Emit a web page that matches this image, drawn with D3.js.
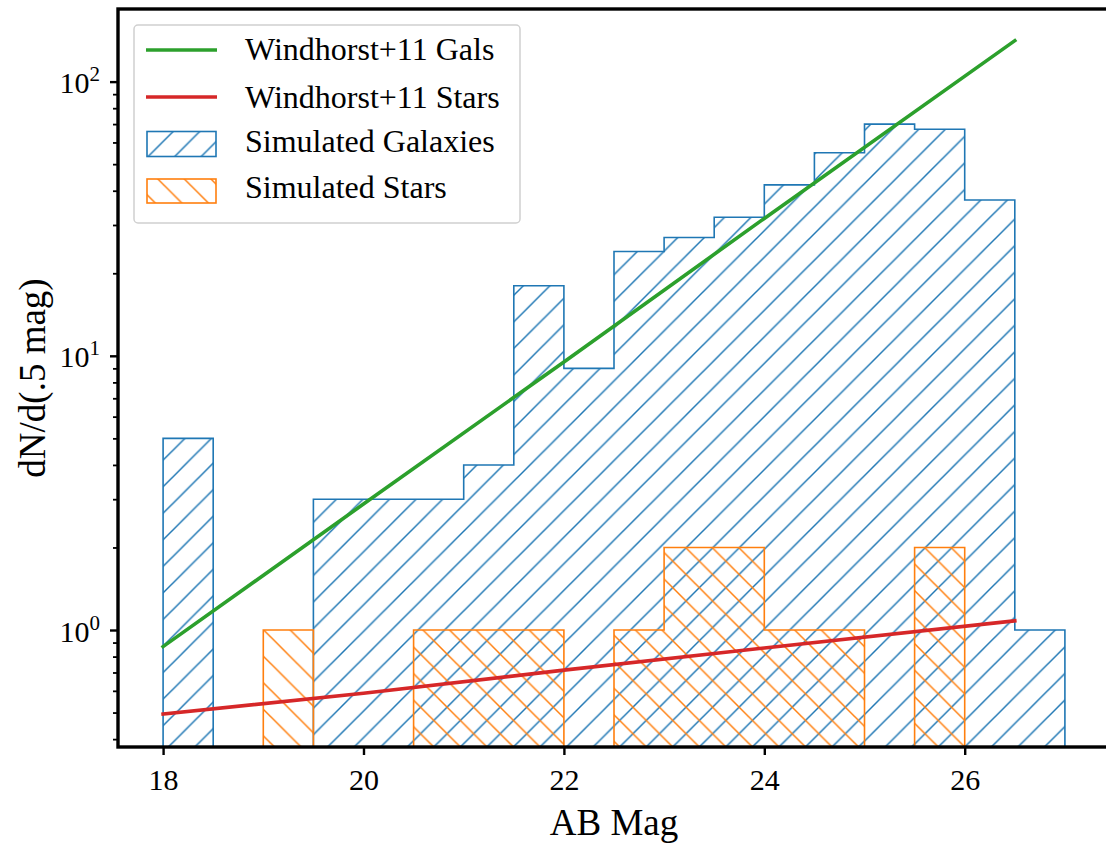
<!DOCTYPE html>
<html>
<head>
<meta charset="utf-8">
<script src="https://cdn.jsdelivr.net/npm/d3@7"></script>
<style>
  html, body { margin: 0; padding: 0; background: #fff; }
  svg { display: block; font-family: "Liberation Serif", "Times New Roman", serif; }
</style>
</head>
<body>
<svg id="chart" width="1106" height="844"></svg>
<script>
// ---- Data ----
const binEdges = [18, 18.5, 19, 19.5, 20, 20.5, 21, 21.5, 22, 22.5, 23, 23.5, 24, 24.5, 25, 25.5, 26, 26.5, 27];
const galaxyCounts = [5, 0, 0, 3, 3, 3, 4, 18, 9, 24, 27, 32, 42, 55, 70, 67, 37, 1];
const starCounts   = [0, 0, 1, 0, 0, 1, 1, 1, 0, 1, 2, 2, 1, 1, 0, 2, 0, 0];
const windhorstMag = [18, 20, 22, 24, 26.5];
const windhorstGals = [0.87, 2.88, 9.5, 31.7, 141];
const windhorstStars = [0.494, 0.588, 0.714, 0.86, 1.08];
const xTicks = [18, 20, 22, 24, 26];
const yTicks = [1, 10, 100];
const yTickExp = ["0", "1", "2"];
const legendLabels = ["Windhorst+11 Gals", "Windhorst+11 Stars", "Simulated Galaxies", "Simulated Stars"];

// ---- Layout ----
const svg = d3.select("#chart");
const pL = 118, pR = 1110, pT = 9, pB = 747;
const x = d3.scaleLinear().domain([17.55, 27.45]).range([pL, pR]);
const y = d3.scaleLog().domain([0.3744, 184]).range([pB, pT]);

const colors = { blue: "#1f77b4", orange: "#ff7f0e", green: "#2ca02c", red: "#d62728" };

svg.append("rect").attr("width", 1106).attr("height", 844).attr("fill", "#fff");

// ---- Hatch patterns ----
const defs = svg.append("defs");
const hs = 26.55;
function hatch(id, color, dir, offset) {
  const p = defs.append("pattern").attr("id", id)
    .attr("patternUnits", "userSpaceOnUse")
    .attr("x", offset).attr("y", 0)
    .attr("width", hs).attr("height", hs);
  const segs = dir === "/"
    ? [[-2, 2, 2, -2], [0, hs, hs, 0], [hs - 2, hs + 2, hs + 2, hs - 2]]
    : [[-2, hs - 2, 2, hs + 2], [0, 0, hs, hs], [hs - 2, -2, hs + 2, 2]];
  segs.forEach(s => p.append("line")
    .attr("x1", s[0]).attr("y1", s[1]).attr("x2", s[2]).attr("y2", s[3])
    .attr("stroke", color).attr("stroke-width", 1.5));
}
hatch("hatchBlue", colors.blue, "/", 12.6);
hatch("hatchOrange", colors.orange, "\\", 5.4);

defs.append("clipPath").attr("id", "plotClip")
  .append("rect").attr("x", pL).attr("y", pT).attr("width", pR - pL).attr("height", pB - pT);

const plot = svg.append("g").attr("clip-path", "url(#plotClip)");

// ---- Step histograms ----
function runs(counts) {
  const out = [];
  let cur = null;
  counts.forEach((c, i) => {
    if (c > 0) {
      if (!cur) { cur = []; out.push(cur); }
      cur.push(i);
    } else cur = null;
  });
  return out;
}
function stepPath(counts, idxs) {
  const floor = 0.05;
  const pts = [];
  pts.push([x(binEdges[idxs[0]]), y(floor)]);
  idxs.forEach(i => {
    pts.push([x(binEdges[i]), y(counts[i])]);
    pts.push([x(binEdges[i + 1]), y(counts[i])]);
  });
  pts.push([x(binEdges[idxs[idxs.length - 1] + 1]), y(floor)]);
  return d3.line()(pts);
}
function drawHist(counts, pattern, color) {
  runs(counts).forEach(r => {
    plot.append("path").attr("d", stepPath(counts, r))
      .attr("fill", `url(#${pattern})`)
      .attr("stroke", color).attr("stroke-width", 1.6)
      .attr("stroke-linejoin", "miter");
  });
}
drawHist(galaxyCounts, "hatchBlue", colors.blue);
drawHist(starCounts, "hatchOrange", colors.orange);

// ---- Lines ----
const line = d3.line().x((d, i) => x(windhorstMag[i])).y(d => y(d));
plot.append("path").attr("d", line(windhorstGals)).attr("fill", "none")
  .attr("stroke", colors.green).attr("stroke-width", 3.6).attr("stroke-linecap", "square");
plot.append("path").attr("d", line(windhorstStars)).attr("fill", "none")
  .attr("stroke", colors.red).attr("stroke-width", 3.6).attr("stroke-linecap", "square");

// ---- Axes ----
const xAxis = d3.axisBottom(x).tickValues(xTicks).tickSize(8).tickPadding(14).tickFormat(d3.format("d"));
const gx = svg.append("g").attr("transform", `translate(0,${pB})`).call(xAxis);
gx.select(".domain").remove();
gx.selectAll(".tick line").attr("stroke", "#000").attr("stroke-width", 2.4);
gx.selectAll(".tick text").attr("font-size", 30).attr("fill", "#000")
  .attr("font-family", "Liberation Serif, serif");

const minorVals = [];
[0.1, 1, 10, 100].forEach(dec => { for (let k = 2; k <= 9; k++) minorVals.push(dec * k); });
const yMinor = minorVals.filter(v => v >= y.domain()[0] && v <= y.domain()[1]);
const gyMinor = svg.append("g").attr("transform", `translate(${pL},0)`)
  .call(d3.axisLeft(y).tickValues(yMinor).tickSize(5).tickFormat(""));
gyMinor.select(".domain").remove();
gyMinor.selectAll(".tick line").attr("stroke", "#000").attr("stroke-width", 1.8);

const gy = svg.append("g").attr("transform", `translate(${pL},0)`)
  .call(d3.axisLeft(y).tickValues(yTicks).tickSize(8).tickFormat(""));
gy.select(".domain").remove();
gy.selectAll(".tick line").attr("stroke", "#000").attr("stroke-width", 2.4);
gy.selectAll(".tick").each(function (d, i) {
  const t = d3.select(this).append("text")
    .attr("x", -18).attr("y", 11)
    .attr("text-anchor", "end").attr("fill", "#000")
    .attr("font-size", 30).attr("font-family", "Liberation Serif, serif");
  t.append("tspan").text("10");
  t.append("tspan").attr("dy", -12).attr("font-size", 21).text(yTickExp[i]);
});

// Spines
svg.append("rect").attr("x", pL).attr("y", pT).attr("width", pR - pL).attr("height", pB - pT)
  .attr("fill", "none").attr("stroke", "#000").attr("stroke-width", 3.4);

// Axis labels
svg.append("text").attr("x", (pL + pR) / 2).attr("y", 835)
  .attr("text-anchor", "middle").attr("font-size", 37).attr("fill", "#000").text("AB Mag");
svg.append("text").attr("transform", `translate(45,${(pT + pB) / 2}) rotate(-90)`)
  .attr("text-anchor", "middle").attr("font-size", 37).attr("fill", "#000").text("dN/d(.5 mag)");

// ---- Legend ----
const lg = svg.append("g");
lg.append("rect").attr("x", 134).attr("y", 25).attr("width", 386).attr("height", 198).attr("rx", 4)
  .attr("fill", "#fff").attr("fill-opacity", 0.85).attr("stroke", "#d0d0d0").attr("stroke-width", 1.5);
const rowY = [50, 97, 144, 191];
const textY = [49, 97, 141, 187];
lg.append("line").attr("x1", 146).attr("x2", 217).attr("y1", rowY[0]).attr("y2", rowY[0])
  .attr("stroke", colors.green).attr("stroke-width", 3.6);
lg.append("line").attr("x1", 146).attr("x2", 217).attr("y1", rowY[1]).attr("y2", rowY[1])
  .attr("stroke", colors.red).attr("stroke-width", 3.6);
lg.append("rect").attr("x", 147).attr("y", rowY[2] - 12.5).attr("width", 69).attr("height", 25)
  .attr("fill", "url(#hatchBlue)").attr("stroke", colors.blue).attr("stroke-width", 1.6);
lg.append("rect").attr("x", 147).attr("y", rowY[3] - 12).attr("width", 69).attr("height", 24)
  .attr("fill", "url(#hatchOrange)").attr("stroke", colors.orange).attr("stroke-width", 1.6);
legendLabels.forEach((lab, i) => {
  lg.append("text").attr("x", 245).attr("y", textY[i]).attr("dy", "0.35em")
    .attr("font-size", 32).attr("fill", "#000").text(lab);
});
</script>
</body>
</html>
